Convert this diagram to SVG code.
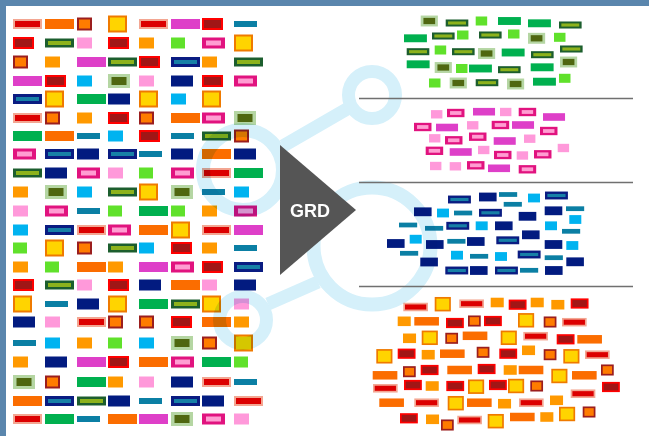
<svg xmlns="http://www.w3.org/2000/svg" xmlns:xlink="http://www.w3.org/1999/xlink" width="649" height="436" viewBox="0 0 649 436">
<style>
.wm{fill:none;stroke:#d5f0fa;stroke-width:14}
.wl{stroke:#d5f0fa;stroke-width:13}
.sep{stroke:#707070;stroke-width:1.5}
.lbl{font-family:"Liberation Sans",Arial,sans-serif;font-weight:bold;font-size:18px;fill:#ffffff}
</style>
<defs>
<g id="O1"><rect x="1" y="-7.5" width="17" height="15" fill="#ffd400" stroke="#ef7a00" stroke-width="2"/></g>
<g id="O2"><rect x="1" y="-4" width="27" height="8" fill="#dc0000" stroke="#f3a692" stroke-width="2"/></g>
<g id="O3"><rect x="0" y="-5.5" width="15" height="11" fill="#ff9900"/></g>
<g id="O4"><rect x="1" y="-5" width="19" height="10" fill="#a11616" stroke="#ff0000" stroke-width="2"/></g>
<g id="O5"><rect x="1" y="-5.5" width="13" height="11" fill="#ff7c00" stroke="#9b1e1e" stroke-width="2"/></g>
<g id="O6"><rect x="0" y="-5" width="29" height="10" fill="#fb6d00"/></g>
<g id="P1"><rect x="0" y="-5.5" width="15" height="11" fill="#ff99da"/></g>
<g id="P2"><rect x="0" y="-5.5" width="23" height="11" fill="#e1137f"/><rect x="4" y="-2.5" width="15" height="5" fill="#ff9dd2"/></g>
<g id="P3"><rect x="0" y="-5" width="29" height="10" fill="#de3fc8"/></g>
<g id="G1"><rect x="0" y="-7" width="22" height="14" fill="#b5d6a3"/><rect x="3.5" y="-4" width="15" height="8" fill="#4f6710"/></g>
<g id="G2"><rect x="0" y="-4.5" width="29" height="9" fill="#1c5e2e"/><rect x="3" y="-2" width="23" height="4" fill="#8db21c"/></g>
<g id="G3"><rect x="0" y="-5.5" width="14" height="11" fill="#60e12b"/></g>
<g id="G4"><rect x="0" y="-5" width="29" height="10" fill="#00b04f"/></g>
<g id="B1"><rect x="0" y="-5" width="29" height="10" fill="#0a1c82"/><rect x="3" y="-2" width="23" height="4" fill="#1780a6"/></g>
<g id="B2"><rect x="0" y="-5.5" width="22" height="11" fill="#021b80"/></g>
<g id="B3"><rect x="0" y="-3" width="23" height="6" fill="#0b7fa4"/></g>
<g id="B4"><rect x="0" y="-5.5" width="15" height="11" fill="#00b3f0"/></g>
</defs>
<rect x="0" y="0" width="649" height="436" fill="#ffffff"/>
<rect x="0" y="0" width="649" height="6" fill="#5a86ad"/>
<rect x="0" y="0" width="6" height="436" fill="#5a86ad"/>

<g id="source-grid">
<use href="#O2" x="13" y="24"/><use href="#O6" x="45" y="24"/><use href="#O5" x="77" y="24"/><use href="#O1" x="108" y="24"/><use href="#O2" x="139" y="24"/><use href="#P3" x="171" y="24"/><use href="#O4" x="202" y="24"/><use href="#B3" x="234" y="24"/>
<use href="#O4" x="13" y="43"/><use href="#G2" x="45" y="43"/><use href="#P1" x="77" y="43"/><use href="#O4" x="108" y="43"/><use href="#O3" x="139" y="43"/><use href="#G3" x="171" y="43"/><use href="#P2" x="202" y="43"/><use href="#O1" x="234" y="43"/>
<use href="#O5" x="13" y="62"/><use href="#O3" x="45" y="62"/><use href="#P3" x="77" y="62"/><use href="#G2" x="108" y="62"/><use href="#O4" x="139" y="62"/><use href="#B1" x="171" y="62"/><use href="#O3" x="202" y="62"/><use href="#G2" x="234" y="62"/>
<use href="#P3" x="13" y="81"/><use href="#O4" x="45" y="81"/><use href="#B4" x="77" y="81"/><use href="#G1" x="108" y="81"/><use href="#P1" x="139" y="81"/><use href="#B2" x="171" y="81"/><use href="#O4" x="202" y="81"/><use href="#P2" x="234" y="81"/>
<use href="#B1" x="13" y="99"/><use href="#O1" x="45" y="99"/><use href="#G4" x="77" y="99"/><use href="#B2" x="108" y="99"/><use href="#O1" x="139" y="99"/><use href="#B4" x="171" y="99"/><use href="#O1" x="202" y="99"/>
<use href="#O2" x="13" y="118"/><use href="#O5" x="45" y="118"/><use href="#O3" x="77" y="118"/><use href="#O4" x="108" y="118"/><use href="#O5" x="139" y="118"/><use href="#O6" x="171" y="118"/><use href="#P2" x="202" y="118"/><use href="#G1" x="234" y="118"/>
<use href="#G4" x="13" y="136"/><use href="#O6" x="45" y="136"/><use href="#B3" x="77" y="136"/><use href="#B4" x="108" y="136"/><use href="#O4" x="139" y="136"/><use href="#B3" x="171" y="136"/><use href="#G2" x="202" y="136"/><use href="#O5" x="234" y="136"/>
<use href="#P2" x="13" y="154"/><use href="#B1" x="45" y="154"/><use href="#B2" x="77" y="154"/><use href="#B1" x="108" y="154"/><use href="#B3" x="139" y="154"/><use href="#B2" x="171" y="154"/><use href="#O6" x="202" y="154"/><use href="#B2" x="234" y="154"/>
<use href="#G2" x="13" y="173"/><use href="#B2" x="45" y="173"/><use href="#P2" x="77" y="173"/><use href="#P1" x="108" y="173"/><use href="#G3" x="139" y="173"/><use href="#P2" x="171" y="173"/><use href="#O2" x="202" y="173"/><use href="#G4" x="234" y="173"/>
<use href="#O3" x="13" y="192"/><use href="#G1" x="45" y="192"/><use href="#B4" x="77" y="192"/><use href="#G2" x="108" y="192"/><use href="#O1" x="139" y="192"/><use href="#G1" x="171" y="192"/><use href="#B3" x="202" y="192"/><use href="#B4" x="234" y="192"/>
<use href="#P1" x="13" y="211"/><use href="#P2" x="45" y="211"/><use href="#B3" x="77" y="211"/><use href="#G3" x="108" y="211"/><use href="#G4" x="139" y="211"/><use href="#G3" x="171" y="211"/><use href="#O3" x="202" y="211"/><use href="#P2" x="234" y="211"/>
<use href="#B4" x="13" y="230"/><use href="#B1" x="45" y="230"/><use href="#O2" x="77" y="230"/><use href="#P2" x="108" y="230"/><use href="#O6" x="139" y="230"/><use href="#O1" x="171" y="230"/><use href="#O2" x="202" y="230"/><use href="#P3" x="234" y="230"/>
<use href="#G3" x="13" y="248"/><use href="#O1" x="45" y="248"/><use href="#O5" x="77" y="248"/><use href="#G2" x="108" y="248"/><use href="#B4" x="139" y="248"/><use href="#O4" x="171" y="248"/><use href="#O3" x="202" y="248"/><use href="#B3" x="234" y="248"/>
<use href="#O3" x="13" y="267"/><use href="#G3" x="45" y="267"/><use href="#O6" x="77" y="267"/><use href="#O3" x="108" y="267"/><use href="#P3" x="139" y="267"/><use href="#P2" x="171" y="267"/><use href="#O4" x="202" y="267"/><use href="#B1" x="234" y="267"/>
<use href="#O4" x="13" y="285"/><use href="#G2" x="45" y="285"/><use href="#P1" x="77" y="285"/><use href="#O4" x="108" y="285"/><use href="#B2" x="139" y="285"/><use href="#O6" x="171" y="285"/><use href="#P1" x="202" y="285"/><use href="#B2" x="234" y="285"/>
<use href="#O1" x="13" y="304"/><use href="#B3" x="45" y="304"/><use href="#B2" x="77" y="304"/><use href="#O1" x="108" y="304"/><use href="#G4" x="139" y="304"/><use href="#G2" x="171" y="304"/><use href="#O1" x="202" y="304"/><use href="#P1" x="234" y="304"/>
<use href="#B2" x="13" y="322"/><use href="#P1" x="45" y="322"/><use href="#O2" x="77" y="322"/><use href="#O5" x="108" y="322"/><use href="#O5" x="139" y="322"/><use href="#O4" x="171" y="322"/><use href="#O6" x="202" y="322"/><use href="#O3" x="234" y="322"/>
<use href="#B3" x="13" y="343"/><use href="#B4" x="45" y="343"/><use href="#O3" x="77" y="343"/><use href="#G3" x="108" y="343"/><use href="#B4" x="139" y="343"/><use href="#G1" x="171" y="343"/><use href="#O5" x="202" y="343"/><use href="#O1" x="234" y="343"/>
<use href="#O3" x="13" y="362"/><use href="#B2" x="45" y="362"/><use href="#P3" x="77" y="362"/><use href="#O4" x="108" y="362"/><use href="#O6" x="139" y="362"/><use href="#P2" x="171" y="362"/><use href="#G4" x="202" y="362"/><use href="#G3" x="234" y="362"/>
<use href="#G1" x="13" y="382"/><use href="#O5" x="45" y="382"/><use href="#G4" x="77" y="382"/><use href="#O3" x="108" y="382"/><use href="#P1" x="139" y="382"/><use href="#B2" x="171" y="382"/><use href="#O2" x="202" y="382"/><use href="#B3" x="234" y="382"/>
<use href="#O6" x="13" y="401"/><use href="#B1" x="45" y="401"/><use href="#G2" x="77" y="401"/><use href="#B2" x="108" y="401"/><use href="#B3" x="139" y="401"/><use href="#B1" x="171" y="401"/><use href="#B2" x="202" y="401"/><use href="#O2" x="234" y="401"/>
<use href="#O2" x="13" y="419"/><use href="#G4" x="45" y="419"/><use href="#B3" x="77" y="419"/><use href="#O6" x="108" y="419"/><use href="#P3" x="139" y="419"/><use href="#G1" x="171" y="419"/><use href="#P2" x="202" y="419"/><use href="#P1" x="234" y="419"/>
</g>

<g id="cluster-green">
<use href="#G1" transform="translate(420.7 21) scale(.78)"/><use href="#G2" transform="translate(445.7 23) scale(.78)"/><use href="#G3" transform="translate(475.7 21) scale(.82)"/><use href="#G4" transform="translate(498 21) scale(.79)"/><use href="#G4" transform="translate(528 23.3) scale(.79)"/><use href="#G2" transform="translate(559 25) scale(.78)"/>
<use href="#G4" transform="translate(404 38.3) scale(.79)"/><use href="#G2" transform="translate(432 36) scale(.78)"/><use href="#G3" transform="translate(457 35) scale(.82)"/><use href="#G2" transform="translate(479 35) scale(.78)"/><use href="#G3" transform="translate(508 34) scale(.82)"/><use href="#G1" transform="translate(528 38.3) scale(.78)"/><use href="#G3" transform="translate(554 37.3) scale(.82)"/>
<use href="#G2" transform="translate(406.7 51.7) scale(.78)"/><use href="#G3" transform="translate(434.7 50) scale(.82)"/><use href="#G2" transform="translate(452 51.7) scale(.78)"/><use href="#G1" transform="translate(478 53.5) scale(.78)"/><use href="#G4" transform="translate(501.7 52.5) scale(.79)"/><use href="#G2" transform="translate(531 54.7) scale(.78)"/><use href="#G2" transform="translate(560 49) scale(.78)"/>
<use href="#G4" transform="translate(406.7 64.3) scale(.79)"/><use href="#G1" transform="translate(434.7 67.5) scale(.78)"/><use href="#G3" transform="translate(456 68.5) scale(.82)"/><use href="#G4" transform="translate(469 68.5) scale(.79)"/><use href="#G2" transform="translate(498 69.7) scale(.78)"/><use href="#G4" transform="translate(530.7 67.3) scale(.79)"/><use href="#G1" transform="translate(560 62) scale(.78)"/>
<use href="#G3" transform="translate(429 83) scale(.82)"/><use href="#G1" transform="translate(449.7 83) scale(.78)"/><use href="#G2" transform="translate(475.7 82.7) scale(.78)"/><use href="#G1" transform="translate(507 84) scale(.78)"/><use href="#G4" transform="translate(533 81.7) scale(.79)"/><use href="#G3" transform="translate(559 78.3) scale(.82)"/>
</g>

<g id="cluster-pink">
<use href="#P1" transform="translate(431 114.3) scale(.76)"/><use href="#P2" transform="translate(447 113) scale(.76)"/><use href="#P3" transform="translate(473 111.7) scale(.76)"/><use href="#P1" transform="translate(500 112) scale(.76)"/><use href="#P2" transform="translate(518.7 112) scale(.76)"/><use href="#P3" transform="translate(543 117) scale(.76)"/>
<use href="#P2" transform="translate(414 127) scale(.76)"/><use href="#P3" transform="translate(436 127.5) scale(.76)"/><use href="#P1" transform="translate(467 125.3) scale(.76)"/><use href="#P2" transform="translate(491.7 125) scale(.76)"/><use href="#P3" transform="translate(512 125) scale(.76)"/><use href="#P2" transform="translate(540 131) scale(.76)"/>
<use href="#P1" transform="translate(429 138.3) scale(.76)"/><use href="#P2" transform="translate(445 140.3) scale(.76)"/><use href="#P2" transform="translate(469 136.7) scale(.76)"/><use href="#P3" transform="translate(493.7 141) scale(.76)"/><use href="#P1" transform="translate(524 138.7) scale(.76)"/>
<use href="#P2" transform="translate(425.7 150.8) scale(.76)"/><use href="#P3" transform="translate(449.7 152) scale(.76)"/><use href="#P1" transform="translate(478 150) scale(.76)"/><use href="#P2" transform="translate(494 155) scale(.76)"/><use href="#P1" transform="translate(516.7 155.5) scale(.76)"/><use href="#P2" transform="translate(534 154.3) scale(.76)"/><use href="#P1" transform="translate(557.7 148) scale(.76)"/>
<use href="#P1" transform="translate(430 166) scale(.76)"/><use href="#P1" transform="translate(449.7 166.3) scale(.76)"/><use href="#P2" transform="translate(467 165.3) scale(.76)"/><use href="#P3" transform="translate(488 168.3) scale(.76)"/><use href="#P2" transform="translate(518.7 169.3) scale(.76)"/>
</g>

<g id="cluster-blue">
<use href="#B1" transform="translate(448 199.5) scale(.79)"/><use href="#B2" transform="translate(479 197) scale(.8)"/><use href="#B3" transform="translate(499 194.5) scale(.79)"/><use href="#B4" transform="translate(528 198) scale(.8)"/><use href="#B1" transform="translate(545 195.5) scale(.79)"/><use href="#B3" transform="translate(503.7 204.3) scale(.79)"/>
<use href="#B2" transform="translate(414 211.8) scale(.8)"/><use href="#B4" transform="translate(437 213) scale(.8)"/><use href="#B3" transform="translate(454 213) scale(.79)"/><use href="#B1" transform="translate(479 212.8) scale(.79)"/><use href="#B2" transform="translate(518.7 216.3) scale(.8)"/><use href="#B2" transform="translate(544.7 210.8) scale(.8)"/><use href="#B3" transform="translate(566 208.7) scale(.79)"/>
<use href="#B3" transform="translate(399 225) scale(.79)"/><use href="#B3" transform="translate(425 228.3) scale(.79)"/><use href="#B1" transform="translate(446.3 225.8) scale(.79)"/><use href="#B4" transform="translate(475.7 225.8) scale(.8)"/><use href="#B2" transform="translate(495 225.8) scale(.8)"/><use href="#B4" transform="translate(545 225.8) scale(.8)"/><use href="#B4" transform="translate(569.3 219.5) scale(.8)"/><use href="#B3" transform="translate(562 231.3) scale(.79)"/><use href="#B2" transform="translate(522 234.8) scale(.8)"/>
<use href="#B4" transform="translate(409.7 239.2) scale(.8)"/><use href="#B2" transform="translate(387 243.5) scale(.8)"/><use href="#B2" transform="translate(426 244.5) scale(.8)"/><use href="#B3" transform="translate(447.3 241.3) scale(.79)"/><use href="#B2" transform="translate(467 241.5) scale(.8)"/><use href="#B1" transform="translate(496.3 240.3) scale(.79)"/><use href="#B2" transform="translate(544.7 244.5) scale(.8)"/><use href="#B4" transform="translate(566.3 245.5) scale(.8)"/>
<use href="#B3" transform="translate(400 253.3) scale(.79)"/><use href="#B2" transform="translate(420.3 262) scale(.8)"/><use href="#B4" transform="translate(451 255.2) scale(.8)"/><use href="#B3" transform="translate(470 256.3) scale(.79)"/><use href="#B4" transform="translate(495 256.5) scale(.8)"/><use href="#B1" transform="translate(517.7 254.5) scale(.79)"/><use href="#B3" transform="translate(544.7 257.7) scale(.79)"/><use href="#B2" transform="translate(566.3 261.8) scale(.8)"/>
<use href="#B1" transform="translate(445.3 270.5) scale(.79)"/><use href="#B2" transform="translate(470 270.5) scale(.8)"/><use href="#B1" transform="translate(495 270.5) scale(.79)"/><use href="#B3" transform="translate(520 270.3) scale(.79)"/><use href="#B2" transform="translate(545 270.5) scale(.8)"/>
</g>

<g id="cluster-orange">
<use href="#O2" transform="translate(403.3 307) scale(.85)"/><use href="#O1" transform="translate(434.7 304.2) scale(.85)"/><use href="#O2" transform="translate(459.3 303.7) scale(.85)"/><use href="#O3" transform="translate(490.7 302.5) scale(.87)"/><use href="#O4" transform="translate(508.7 304.7) scale(.85)"/><use href="#O3" transform="translate(530.7 302.5) scale(.87)"/><use href="#O3" transform="translate(551.3 304.7) scale(.87)"/><use href="#O4" transform="translate(570.7 303.5) scale(.85)"/>
<use href="#O3" transform="translate(397.7 321.3) scale(.87)"/><use href="#O6" transform="translate(414.3 321.3) scale(.85)"/><use href="#O4" transform="translate(446 323) scale(.85)"/><use href="#O5" transform="translate(468 321) scale(.85)"/><use href="#O4" transform="translate(484 321) scale(.85)"/><use href="#O1" transform="translate(518 320.3) scale(.85)"/><use href="#O5" transform="translate(543.7 322) scale(.85)"/><use href="#O2" transform="translate(562 322.2) scale(.85)"/>
<use href="#O3" transform="translate(403 338.3) scale(.87)"/><use href="#O1" transform="translate(421.7 337.8) scale(.85)"/><use href="#O5" transform="translate(445.3 338.3) scale(.85)"/><use href="#O6" transform="translate(462.7 335.8) scale(.85)"/><use href="#O1" transform="translate(500.7 337.8) scale(.85)"/><use href="#O2" transform="translate(523.3 336.2) scale(.85)"/><use href="#O4" transform="translate(556.7 339.3) scale(.85)"/><use href="#O6" transform="translate(577.3 339.3) scale(.85)"/>
<use href="#O1" transform="translate(376.3 356.3) scale(.85)"/><use href="#O4" transform="translate(397.7 353.7) scale(.85)"/><use href="#O3" transform="translate(421.7 354.7) scale(.87)"/><use href="#O6" transform="translate(440 353.7) scale(.85)"/><use href="#O5" transform="translate(476.7 352.3) scale(.85)"/><use href="#O4" transform="translate(499.3 353.7) scale(.85)"/><use href="#O3" transform="translate(522 350.3) scale(.87)"/><use href="#O5" transform="translate(543.7 354.7) scale(.85)"/><use href="#O1" transform="translate(563.3 356.3) scale(.85)"/><use href="#O2" transform="translate(585 354.7) scale(.85)"/>
<use href="#O6" transform="translate(372.7 375.3) scale(.85)"/><use href="#O5" transform="translate(403 371.7) scale(.85)"/><use href="#O4" transform="translate(420.7 370) scale(.85)"/><use href="#O6" transform="translate(447.3 370) scale(.85)"/><use href="#O4" transform="translate(477.7 369) scale(.85)"/><use href="#O3" transform="translate(503.7 370) scale(.87)"/><use href="#O6" transform="translate(518.7 370) scale(.85)"/><use href="#O1" transform="translate(551.3 376) scale(.85)"/><use href="#O6" transform="translate(572 375.3) scale(.85)"/><use href="#O5" transform="translate(601 370) scale(.85)"/>
<use href="#O2" transform="translate(373 388.3) scale(.85)"/><use href="#O4" transform="translate(404 385) scale(.85)"/><use href="#O3" transform="translate(425.7 386) scale(.87)"/><use href="#O4" transform="translate(446.3 386) scale(.85)"/><use href="#O1" transform="translate(468 386.7) scale(.85)"/><use href="#O4" transform="translate(489 385) scale(.85)"/><use href="#O1" transform="translate(508 386) scale(.85)"/><use href="#O5" transform="translate(530.3 386) scale(.85)"/><use href="#O2" transform="translate(570.7 393.7) scale(.85)"/><use href="#O4" transform="translate(602 387) scale(.85)"/>
<use href="#O6" transform="translate(379.3 402.7) scale(.85)"/><use href="#O2" transform="translate(414.3 402.7) scale(.85)"/><use href="#O1" transform="translate(447.7 403.2) scale(.85)"/><use href="#O6" transform="translate(467 402.7) scale(.85)"/><use href="#O3" transform="translate(498 403.7) scale(.87)"/><use href="#O2" transform="translate(519 402.7) scale(.85)"/><use href="#O3" transform="translate(550 400.3) scale(.87)"/>
<use href="#O4" transform="translate(400 418.3) scale(.85)"/><use href="#O3" transform="translate(426 419.3) scale(.87)"/><use href="#O5" transform="translate(441 425) scale(.85)"/><use href="#O2" transform="translate(457.3 420) scale(.85)"/><use href="#O1" transform="translate(487.7 421.2) scale(.85)"/><use href="#O6" transform="translate(510 417) scale(.85)"/><use href="#O3" transform="translate(540.3 417) scale(.87)"/><use href="#O1" transform="translate(559 414) scale(.85)"/><use href="#O5" transform="translate(582.7 412) scale(.85)"/>
</g>

<g id="watermark" style="mix-blend-mode:multiply">
<line class="wl" x1="347" y1="109" x2="283" y2="146"/>
<line class="wl" x1="318" y1="282" x2="268" y2="304"/>
<circle class="wm" cx="372" cy="95" r="23.5" style="stroke-width:13"/>
<circle class="wm" cx="243" cy="170" r="40"/>
<circle class="wm" cx="372" cy="246" r="58.5"/>
<circle class="wm" cx="243" cy="320" r="23.5" style="stroke-width:13"/>
</g>

<g id="separators">
<line class="sep" x1="359" y1="98.5" x2="633" y2="98.5"/>
<line class="sep" x1="359" y1="182.5" x2="633" y2="182.5"/>
<line class="sep" x1="359" y1="286.5" x2="633" y2="286.5"/>
</g>

<g id="connectors">
<g id="arrow">
<polygon points="280,145 356,210 280,275" fill="#555555"/>
<text class="lbl" x="310" y="217" text-anchor="middle">GRD</text>
</g>
</g>
</svg>
